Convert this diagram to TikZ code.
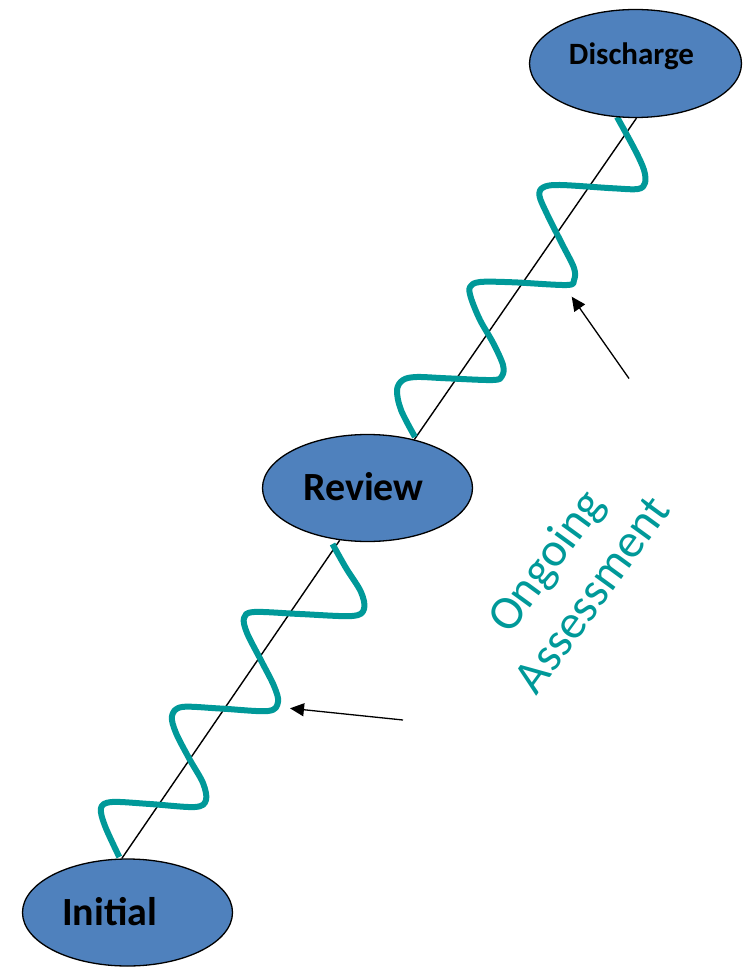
\documentclass[tikz,border=0pt]{standalone}
\usepackage{fontspec}
\setmainfont{Carlito}
\usetikzlibrary{arrows.meta,shapes.geometric}
\definecolor{nodeblue}{RGB}{79,129,189}
\definecolor{waveteal}{RGB}{0,153,153}
\pgfdeclarelayer{behind}
\pgfsetlayers{behind,main}
\begin{document}
\begin{tikzpicture}[x=1pt,y=-1pt,
  stage/.style={ellipse, draw=black, line width=1.3pt, fill=nodeblue, inner sep=0pt},
  stagetext/.style={anchor=base, inner sep=0pt},
  wave/.style={draw=waveteal, line width=6pt, line cap=butt, line join=round},
  link/.style={draw=black, line width=1.4pt},
  pointer/.style={draw=black, line width=1.3pt, -{Triangle[length=14pt,width=13pt]}}
]
\path[use as bounding box] (0,0) rectangle (746,968);

% stages
\node[stage, minimum width=210pt, minimum height=107pt] (init) at (127.5,912.5) {};
\node[stage, minimum width=210pt, minimum height=107pt] (rev) at (367.5,488) {};
\node[stage, minimum width=212pt, minimum height=108pt] (dis) at (635.5,63.5) {};

\node[stagetext, font=\bfseries\fontsize{40}{48}\selectfont] (initlbl) at (109.5,925) {Initial};
\node[stagetext, font=\bfseries\fontsize{40}{48}\selectfont] (revlbl) at (363.5,500) {Review};
\node[stagetext, font=\bfseries\fontsize{31}{37}\selectfont] (dislbl) at (631.5,65) {Discharge};

\begin{pgfonlayer}{behind}
  % straight path between stages
  \draw[link] (init.96) -- (rev.242);
  \draw[link] (rev.46.5) -- (dis.271.6);
  % wave from Initial to Review
  \draw[wave] plot[smooth, tension=0.55] coordinates {
    (119.3,857) (105,826) (101,808) (112,802) (150,804) (195,807)
    (206,800) (203,783) (190,760) (176,733) (172,716) (182,707)
    (220,708.5) (268,711) (278,702) (274,686) (261.7,661.7) (247,633)
    (244,618) (254,612) (300,614) (352,616) (364,609) (361,592)
    (346,568) (332.5,544)};
  % wave from Review to Discharge
  \draw[wave] plot[smooth, tension=0.55] coordinates {
    (415,437) (401,410) (397,390) (403,380) (416.7,377) (446.7,378.3)
    (493,380) (502,376) (503,365) (493.3,343.3) (480,320) (471,298)
    (470,287) (480,282) (513.3,282.3) (566.7,285) (574,280) (574,268)
    (561.7,243.3) (547,214) (539.5,196) (543,187.5) (560,185) (613.3,188.3)
    (638,189) (645,183) (644,170) (635,150) (617,117)};
\end{pgfonlayer}

% pointers
\coordinate (lowtail) at (403,720);
\coordinate (lowtip) at (290,708.3);
\coordinate (hightail) at (629,378.5);
\coordinate (hightip) at (571.7,296.7);
\draw[pointer] (lowtail) -- (lowtip);
\draw[pointer] (hightail) -- (hightip);

% caption
\node[text=waveteal, rotate=54, align=center, inner sep=0pt,
      font=\fontsize{48}{57}\selectfont] (ongoing) at (568,577) {Ongoing\\Assessment};
\end{tikzpicture}
\end{document}
